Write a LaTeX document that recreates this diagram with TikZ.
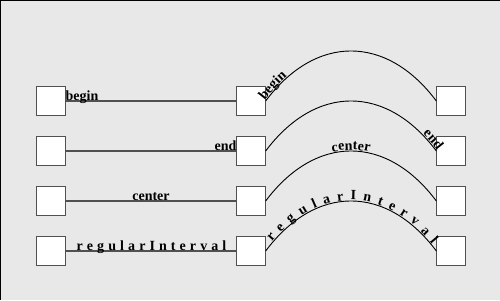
\documentclass[tikz,border=0pt]{standalone}
\usepackage{fontspec}
\setmainfont{Liberation Serif}
\usetikzlibrary{decorations.text,calc}
\definecolor{canvas}{HTML}{E8E8E8}
\definecolor{boxgray}{HTML}{505050}
\newcommand\pathlabelfont{\fontsize{14pt}{16pt}\selectfont\bfseries}
\begin{document}
\begin{tikzpicture}[x=1pt,y=-1pt,
  box/.style={draw=boxgray, fill=white, line width=1.3pt, minimum size=29.3pt,
    inner sep=0pt, outer sep=0pt},
  straight/.style={draw=boxgray, line width=1.3pt},
  arc/.style={draw=black, line width=0.9pt},
  tagged/.style 2 args={postaction={decorate, decoration={text along path,
    text={|\pathlabelfont|#2}, text align={#1}, raise=1pt}}}]
  \useasboundingbox (0,0) rectangle (500,300);
  \fill[canvas] (0,0) rectangle (500,300);
  \draw[black, line width=2pt] (0,300) -- (0,0) -- (500,0);

  % three columns of boxes, four rows
  \foreach \r/\y in {1/101,2/151,3/201,4/251}{
    \node[box] (L\r) at (51,\y) {};
    \node[box] (M\r) at (251,\y) {};
    \node[box] (R\r) at (451,\y) {};
  }

  % straight connectors with labels
  \draw[straight, tagged={left}{begin}] (L1.east) -- (M1.west);
  \draw[straight, tagged={right}{end}] (L2.east) -- (M2.west);
  \draw[straight, tagged={center}{center}] (L3.east) -- (M3.west);
  \draw[straight, tagged={fit to path, left indent=11pt, right indent=10pt}{regularInterval}]
    (L4.east) -- (M4.west);

  % arched connectors with labels
  \draw[arc, tagged={left}{begin}] (M1.east)
    .. controls ($(M1.east)+(50,-66.7)$) and ($(R1.west)+(-50,-66.7)$) .. (R1.west);
  \draw[arc, tagged={right}{end}] (M2.east)
    .. controls ($(M2.east)+(50,-66.7)$) and ($(R2.west)+(-50,-66.7)$) .. (R2.west);
  \draw[arc, tagged={center}{center}] (M3.east)
    .. controls ($(M3.east)+(50,-66.7)$) and ($(R3.west)+(-50,-66.7)$) .. (R3.west);
  \draw[arc, tagged={fit to path, left indent=11pt, right indent=8pt}{regularInterval}] (M4.east)
    .. controls ($(M4.east)+(50,-66.7)$) and ($(R4.west)+(-50,-66.7)$) .. (R4.west);
\end{tikzpicture}
\end{document}
